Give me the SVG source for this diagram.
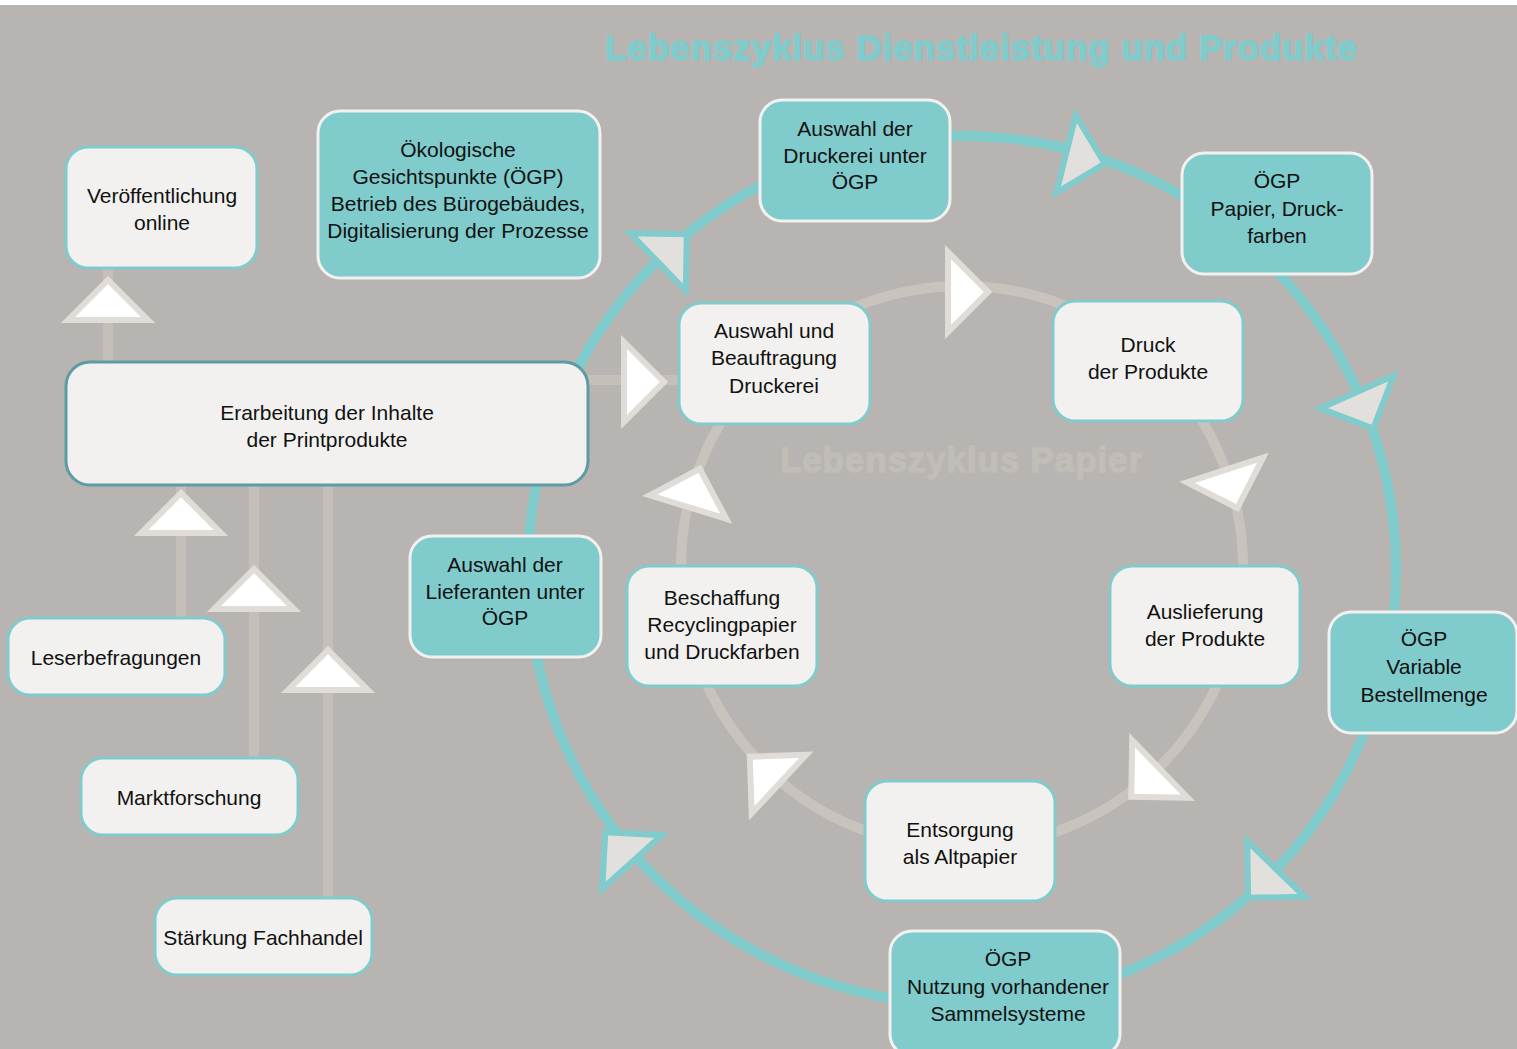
<svg xmlns="http://www.w3.org/2000/svg" width="1517" height="1049" viewBox="0 0 1517 1049">
<style>
.bg{fill:#b8b4b1}
.ring-out{fill:none;stroke:#80cbcc;stroke-width:10}
.ring-in{fill:none;stroke:#c8c4bd;stroke-width:10}
.ln{stroke:#c4c0b9;stroke-width:10;fill:none}
.ta{fill:#e2e0dc;stroke:#80cbcc;stroke-width:6;stroke-linejoin:miter}
.wa{fill:#ffffff;stroke:#e0ddd8;stroke-width:6;stroke-linejoin:miter}
.nl{fill:#f2f1ef;stroke:#80cbcc;stroke-width:3}
.nt{fill:#80cbcc;stroke:#f2f1ef;stroke-width:3}
.nd{fill:#f2f1ef;stroke:#5d9ca5;stroke-width:3}
text{font-family:"Liberation Sans",Arial,sans-serif;font-size:21px;fill:#111;text-anchor:middle}
.t1{font-weight:bold;font-size:35px;fill:#80cbcc;stroke:#80cbcc;stroke-width:1.4;text-anchor:start}
.t2{font-weight:bold;font-size:35px;fill:#c1bdb7;stroke:#c1bdb7;stroke-width:1.4;text-anchor:start}
</style>
<defs>
<polygon id="tri" points="0,-40 40,0 0,40"/>
</defs>
<rect x="0" y="0" width="1517" height="1049" fill="#ffffff"/>
<rect class="bg" x="0" y="5" width="1517" height="1044"/>
<text class="t1" x="605" y="60" textLength="752" lengthAdjust="spacing">Lebenszyklus Dienstleistung und Produkte</text>
<text class="t2" x="780" y="472" textLength="362" lengthAdjust="spacing">Lebenszyklus Papier</text>
<g id="connectors">
<circle class="ring-in" cx="962" cy="567" r="281"/>
<circle class="ring-out" cx="962" cy="570" r="434"/>
<line class="ln" x1="588" y1="380" x2="680" y2="380"/>
<line class="ln" x1="108" y1="268" x2="108" y2="362"/>
<line class="ln" x1="181" y1="485" x2="181" y2="618"/>
<line class="ln" x1="254" y1="485" x2="254" y2="758"/>
<line class="ln" x1="328" y1="485" x2="328" y2="898"/>
<use href="#tri" class="ta" transform="translate(658,262) rotate(-44)"/>
<use href="#tri" class="ta" transform="translate(1066,154) rotate(14)"/>
<use href="#tri" class="ta" transform="translate(1357,392) rotate(66)"/>
<use href="#tri" class="ta" transform="translate(1276,869) rotate(134)"/>
<use href="#tri" class="ta" transform="translate(632,862) rotate(-132)"/>
<use href="#tri" class="wa" transform="translate(948,292)"/>
<use href="#tri" class="wa" transform="translate(1225,470) rotate(72)"/>
<use href="#tri" class="wa" transform="translate(1160,769) rotate(136)"/>
<use href="#tri" class="wa" transform="translate(779,784) rotate(-137)"/>
<use href="#tri" class="wa" transform="translate(688,507) rotate(-73)"/>
<use href="#tri" class="wa" transform="translate(624,382)"/>
<use href="#tri" class="wa" transform="translate(108,320) rotate(-90)"/>
<use href="#tri" class="wa" transform="translate(181,533) rotate(-90)"/>
<use href="#tri" class="wa" transform="translate(254,609) rotate(-90)"/>
<use href="#tri" class="wa" transform="translate(328,690) rotate(-90)"/>
</g>
<g id="n-veroeffentlichung"><rect class="nl" x="66" y="147" width="191" height="121" rx="22"/><text x="162" y="203">Veröffentlichung</text><text x="162" y="230">online</text></g>
<g id="n-oekologische"><rect class="nt" x="318" y="111" width="282" height="167" rx="22"/><text x="458" y="157">Ökologische</text><text x="458" y="184">Gesichtspunkte (ÖGP)</text><text x="458" y="211">Betrieb des Bürogebäudes,</text><text x="458" y="238">Digitalisierung der Prozesse</text></g>
<g id="n-auswahl-druckerei-oegp"><rect class="nt" x="760" y="100" width="190" height="121" rx="22"/><text x="855" y="136">Auswahl der</text><text x="855" y="163">Druckerei unter</text><text x="855" y="189">ÖGP</text></g>
<g id="n-oegp-papier"><rect class="nt" x="1182" y="153" width="190" height="121" rx="22"/><text x="1277" y="188">ÖGP</text><text x="1277" y="216">Papier, Druck-</text><text x="1277" y="243">farben</text></g>
<g id="n-auswahl-beauftragung"><rect class="nl" x="679" y="303" width="191" height="121" rx="22"/><text x="774" y="338">Auswahl und</text><text x="774" y="365">Beauftragung</text><text x="774" y="393">Druckerei</text></g>
<g id="n-druck"><rect class="nl" x="1053" y="301" width="190" height="120" rx="22"/><text x="1148" y="352">Druck</text><text x="1148" y="379">der Produkte</text></g>
<g id="n-erarbeitung"><rect class="nd" x="66" y="362" width="522" height="123" rx="24"/><text x="327" y="420">Erarbeitung der Inhalte</text><text x="327" y="447">der Printprodukte</text></g>
<g id="n-lieferanten"><rect class="nt" x="410" y="536" width="191" height="121" rx="22"/><text x="505" y="572">Auswahl der</text><text x="505" y="599">Lieferanten unter</text><text x="505" y="625">ÖGP</text></g>
<g id="n-beschaffung"><rect class="nl" x="627" y="566" width="190" height="120" rx="22"/><text x="722" y="605">Beschaffung</text><text x="722" y="632">Recyclingpapier</text><text x="722" y="659">und Druckfarben</text></g>
<g id="n-auslieferung"><rect class="nl" x="1110" y="566" width="190" height="120" rx="22"/><text x="1205" y="619">Auslieferung</text><text x="1205" y="646">der Produkte</text></g>
<g id="n-bestellmenge"><rect class="nt" x="1329" y="612" width="188" height="121" rx="22"/><text x="1424" y="646">ÖGP</text><text x="1424" y="674">Variable</text><text x="1424" y="702">Bestellmenge</text></g>
<g id="n-leserbefragungen"><rect class="nl" x="8" y="618" width="217" height="77" rx="22"/><text x="116" y="665">Leserbefragungen</text></g>
<g id="n-marktforschung"><rect class="nl" x="81" y="758" width="217" height="77" rx="22"/><text x="189" y="805">Marktforschung</text></g>
<g id="n-fachhandel"><rect class="nl" x="155" y="898" width="217" height="77" rx="22"/><text x="263" y="945">Stärkung Fachhandel</text></g>
<g id="n-entsorgung"><rect class="nl" x="865" y="781" width="190" height="120" rx="22"/><text x="960" y="837">Entsorgung</text><text x="960" y="864">als Altpapier</text></g>
<g id="n-sammelsysteme"><rect class="nt" x="890" y="931" width="230" height="125" rx="22"/><text x="1008" y="966">ÖGP</text><text x="1008" y="994">Nutzung vorhandener</text><text x="1008" y="1021">Sammelsysteme</text></g>
</svg>
